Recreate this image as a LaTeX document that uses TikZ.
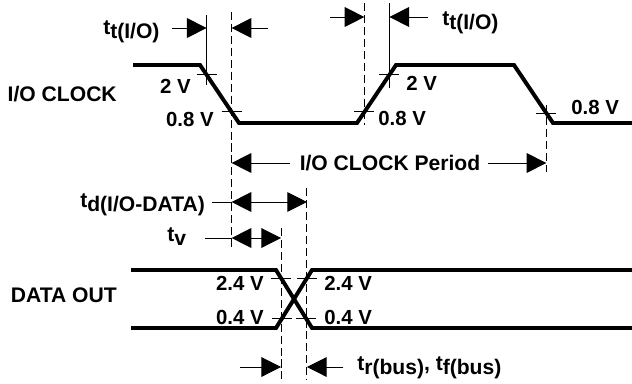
\documentclass[tikz,border=0pt]{standalone}
\usepackage{fontspec}
\setmainfont{Liberation Sans}
\usetikzlibrary{arrows.meta,calc}
\newcommand{\tsub}[2]{#1\raisebox{-3.5pt}{#2}}

\begin{document}
\begin{tikzpicture}[x=0.025cm,y=-0.025cm,line cap=butt,
  wave/.style={line width=2.8pt,line join=miter},
  guide/.style={line width=0.7pt},
  guidedash/.style={line width=0.7pt,dash pattern=on 5.7pt off 2.8pt},
  dim/.style={line width=0.7pt,-{Triangle[length=14pt,width=14pt]}},
  dimboth/.style={line width=0.7pt,{Triangle[length=14pt,width=14pt]}-{Triangle[length=14pt,width=14pt]}},
  lbl/.style={font=\fontsize{15}{17}\selectfont\bfseries,inner sep=0pt},
  volt/.style={font=\fontsize{14.5}{16}\selectfont\bfseries,inner sep=0pt}]
\useasboundingbox (0,0) rectangle (632,383);
% I/O clock waveform
\coordinate (c0) at (133,65);
\coordinate (c1) at (200,65);
\coordinate (c2) at (239,123);
\coordinate (c3) at (357,123);
\coordinate (c4) at (396,65);
\coordinate (c5) at (514,65);
\coordinate (c6) at (553,123);
\coordinate (c7) at (632,123);
\draw[wave] (c0) -- (c1) -- (c2) -- (c3) -- (c4) -- (c5) -- (c6) -- (c7);
\coordinate (fa) at ($(c1)!0.17!(c2)$);
\coordinate (fb) at ($(c1)!0.81!(c2)$);
\coordinate (ra) at ($(c3)!0.19!(c4)$);
\coordinate (rb) at ($(c3)!0.83!(c4)$);
\coordinate (fc) at ($(c5)!0.83!(c6)$);
% data out waveform
\coordinate (d0) at (131,270);
\coordinate (d1) at (276,270);
\coordinate (d2) at (312,328);
\coordinate (d3) at (632,328);
\coordinate (e0) at (131,328);
\coordinate (e1) at (276,328);
\coordinate (e2) at (312,270);
\coordinate (e3) at (632,270);
\draw[wave] (d0) -- (d1) -- (d2) -- (d3);
\draw[wave] (e0) -- (e1) -- (e2) -- (e3);
\coordinate (dh) at ($(d1)!0.14!(d2)$);
\coordinate (dl) at ($(e1)!0.17!(e2)$);
\coordinate (eh) at ($(e1)!0.86!(e2)$);
\coordinate (el) at ($(d1)!0.83!(d2)$);
% level ticks
\foreach \p in {fa,fb,ra,rb,fc,dh,dl,eh,el}
  \draw[guide] ($(\p)+(-10,0)$) -- ($(\p)+(10,0)$);
% marker lines
\draw[guide] (fa |- 0,15) -- (fa |- 0,85);
\draw[guidedash] (fb |- 0,12) -- (fb |- 0,247);
\draw[guidedash] (ra |- 0,3) -- (ra |- 0,125);
\draw[guide] (rb |- 0,3) -- (rb |- 0,88);
\draw[guidedash] (fc |- 0,105) -- (fc |- 0,172);
\draw[guidedash] (dh |- 0,228) -- (dh |- 0,380);
\draw[guidedash] (eh |- 0,188) -- (eh |- 0,380);
% signal names
\node[lbl,anchor=east] (clk) at (117,94) {I/O CLOCK};
\node[lbl,anchor=east] (dout) at (117,295) {DATA OUT};
% levels
\node[volt,anchor=east] (v1) at (191,86) {2 V};
\node[volt,anchor=east] (v2) at (214,119) {0.8 V};
\node[volt,anchor=west] (v3) at (378,118) {0.8 V};
\node[volt,anchor=west] (v4) at (406,83) {2 V};
\node[volt,anchor=west] (v5) at (571,107) {0.8 V};
\node[volt,anchor=east] (v6) at (264,283) {2.4 V};
\node[volt,anchor=east] (v7) at (264,317) {0.4 V};
\node[volt,anchor=west] (v8) at (324,283) {2.4 V};
\node[volt,anchor=west] (v9) at (324,317) {0.4 V};
% timing labels
\node[lbl,anchor=base west] (tt1) at (103,34) {\tsub{t}{t(I/O)}};
\node[lbl,anchor=base west] (tt2) at (442,25) {\tsub{t}{t(I/O)}};
\node[lbl,anchor=base west] (td) at (80,207) {\tsub{t}{d(I/O-DATA)}};
\node[lbl,anchor=base west] (tv) at (167,241) {\tsub{t}{v}};
\node[lbl,anchor=base west] (tr) at (357,370) {\tsub{t}{r(bus)}, \tsub{t}{f(bus)}};
\node[lbl] (per) at (390,163) {I/O CLOCK Period};
% dimension arrows
\draw[dim] (172,28) -- (fa |- 0,28);
\draw[dim] (268,28) -- (fb |- 0,28);
\draw[dim] (330,17) -- (ra |- 0,17);
\draw[dim] (428,17) -- (rb |- 0,17);
\draw[dim] ([xshift=-7pt]per.west) -- (fb |- per);
\draw[dim] ([xshift=5pt]per.east) -- (fc |- per);
\draw[guide] (212,202) -- (fb |- 0,202);
\draw[dimboth] (fb |- 0,202) -- (eh |- 0,202);
\draw[guide] (205,238) -- (fb |- 0,238);
\draw[dimboth] (fb |- 0,238) -- (dh |- 0,238);
\draw[dim] (240,367) -- (dh |- 0,367);
\draw[dim] (343,367) -- (eh |- 0,367);
\end{tikzpicture}
\end{document}
